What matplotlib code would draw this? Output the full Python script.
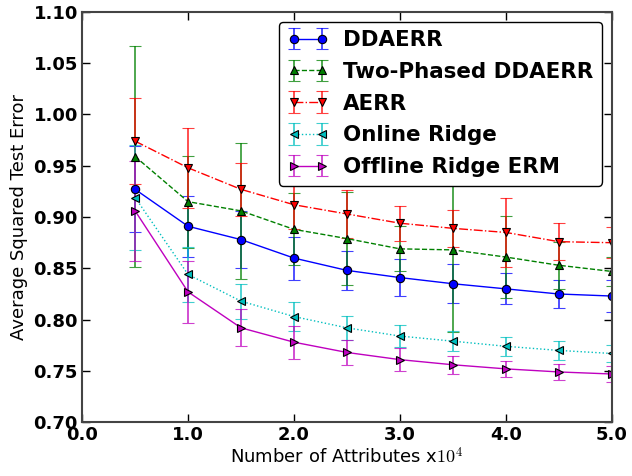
import matplotlib
matplotlib.use('Agg')
import matplotlib.pyplot as plt

plt.rcParams['mathtext.fontset'] = 'cm'

# numero de atributos (x10^4)
x = [0.5, 1.0, 1.5, 2.0, 2.5, 3.0, 3.5, 4.0, 4.5, 5.0]

ddaerr = [0.927, 0.891, 0.878, 0.860, 0.848, 0.841, 0.835, 0.830, 0.825, 0.823]
ddaerr_err = [0.042, 0.030, 0.028, 0.021, 0.019, 0.018, 0.019, 0.015, 0.014, 0.016]

two_phased = [0.959, 0.915, 0.906, 0.888, 0.879, 0.869, 0.868, 0.861, 0.853, 0.847]
two_phased_err = [0.108, 0.045, 0.066, 0.035, 0.045, 0.022, 0.080, 0.040, 0.023, 0.014]

aerr = [0.974, 0.948, 0.927, 0.912, 0.903, 0.894, 0.889, 0.885, 0.876, 0.875]
aerr_err = [0.042, 0.039, 0.026, 0.024, 0.023, 0.017, 0.018, 0.034, 0.018, 0.015]

online_ridge = [0.919, 0.844, 0.818, 0.803, 0.792, 0.784, 0.779, 0.774, 0.770, 0.767]
online_ridge_err = [0.051, 0.027, 0.017, 0.014, 0.012, 0.011, 0.010, 0.009, 0.009, 0.008]

offline_ridge = [0.906, 0.827, 0.792, 0.778, 0.768, 0.761, 0.756, 0.752, 0.749, 0.747]
offline_ridge_err = [0.049, 0.030, 0.018, 0.016, 0.012, 0.011, 0.009, 0.008, 0.008, 0.008]

series = [
    ('DDAERR', ddaerr, ddaerr_err, 'b', '-', 'o'),
    ('Two-Phased DDAERR', two_phased, two_phased_err, 'g', '--', '^'),
    ('AERR', aerr, aerr_err, 'r', '-.', 'v'),
    ('Online Ridge', online_ridge, online_ridge_err, 'c', ':', '<'),
    ('Offline Ridge ERM', offline_ridge, offline_ridge_err, 'm', '-', '>'),
]

fig = plt.figure(figsize=(6.32, 4.76), dpi=100)
ax = fig.add_axes([0.130, 0.113, 0.838, 0.862])

for nome, y, erro, cor, estilo, marcador in series:
    linha, caps, barras = ax.errorbar(x, y, yerr=erro, color=cor, linestyle=estilo,
                                      marker=marcador, markersize=6, markeredgecolor='k',
                                      markeredgewidth=0.8, linewidth=1.0, elinewidth=1.3,
                                      capsize=4, capthick=1.3, label=nome)
    for c in caps:
        c.set_alpha(0.75)
    for b in barras:
        b.set_alpha(0.75)

ax.set_xlim(0.0, 5.0)
ax.set_ylim(0.70, 1.10)
ax.set_xticks([0.0, 1.0, 2.0, 3.0, 4.0, 5.0])
ax.set_xticklabels(['0.0', '1.0', '2.0', '3.0', '4.0', '5.0'])
ax.set_yticks([0.70, 0.75, 0.80, 0.85, 0.90, 0.95, 1.00, 1.05, 1.10])
ax.set_yticklabels(['0.70', '0.75', '0.80', '0.85', '0.90', '0.95', '1.00', '1.05', '1.10'])
ax.tick_params(direction='in', top=True, right=True, length=6, width=1, labelsize=13, pad=3)
for lbl in ax.get_xticklabels() + ax.get_yticklabels():
    lbl.set_fontweight('bold')
for s in ax.spines.values():
    s.set_color('#444444')
    s.set_linewidth(1.5)

ax.set_xlabel('Number of Attributes x$10^4$', fontsize=13, labelpad=2)
ax.set_ylabel('Average Squared Test Error', fontsize=13, labelpad=4)

leg = ax.legend(loc='upper right', numpoints=2, prop={'weight': 'bold', 'size': 15.4},
                fancybox=True, framealpha=1, edgecolor='k', labelspacing=0.55,
                handlelength=1.9, handletextpad=0.7, borderaxespad=0.45)
leg.get_frame().set_linewidth(1.0)

fig.savefig('out.png', dpi=100)
